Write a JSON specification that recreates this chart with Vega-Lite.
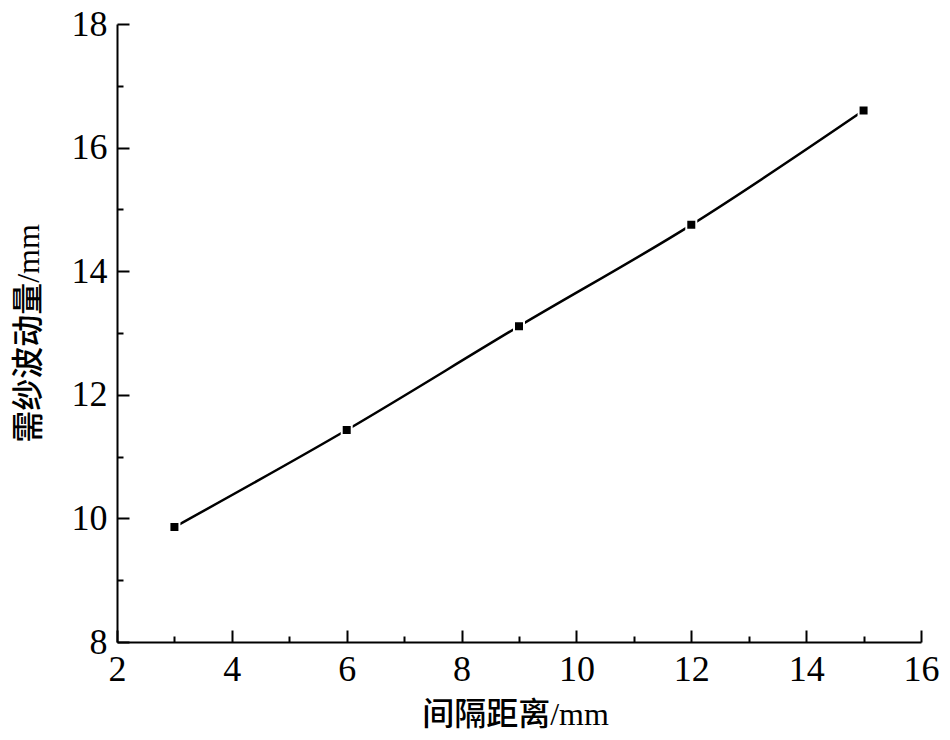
{
  "$schema": "https://vega.github.io/schema/vega-lite/v6.json",
  "width": 804,
  "height": 618,
  "autosize": "none",
  "padding": {"left": 117, "top": 24, "right": 29, "bottom": 98},
  "background": "white",
  "config": {
    "view": {"stroke": null},
    "axis": {
      "domainColor": "black", "domainWidth": 2, "tickColor": "black", "tickWidth": 2,
      "labelFont": "Liberation Serif", "labelFontSize": 36, "labelColor": "black",
      "titleFont": "Liberation Serif, Noto Sans CJK SC", "titleFontSize": 32, "titleColor": "black", "titleFontWeight": 500,
      "grid": false
    }
  },
  "data": {"values": [
    {"d": 3, "v": 9.86},
    {"d": 6, "v": 11.43},
    {"d": 9, "v": 13.11},
    {"d": 12, "v": 14.75},
    {"d": 15, "v": 16.6}
  ]},
  "resolve": {"axis": {"x": "independent", "y": "independent"}},
  "layer": [
    {
      "mark": {"type": "line", "color": "black", "strokeWidth": 2.5, "interpolate": "monotone"},
      "encoding": {
        "x": {"field": "d", "type": "quantitative", "scale": {"domain": [2, 16], "nice": false, "zero": false},
          "axis": {"orient": "bottom", "title": "间隔距离/mm", "values": [2, 4, 6, 8, 10, 12, 14, 16], "tickSize": -12, "labelPadding": 22, "titlePadding": 12, "titleX": 398, "labelFlush": false, "labelOverlap": false}},
        "y": {"field": "v", "type": "quantitative", "scale": {"domain": [8, 18], "nice": false, "zero": false},
          "axis": {"orient": "left", "title": "需纱波动量/mm", "values": [8, 10, 12, 14, 16, 18], "tickSize": -12, "labelPadding": 22, "titlePadding": 26, "labelFlush": false, "labelOverlap": false}}
      }
    },
    {
      "mark": {"type": "point", "shape": "square", "filled": true, "color": "black", "size": 100, "stroke": "white", "strokeWidth": 2, "opacity": 1},
      "encoding": {
        "x": {"field": "d", "type": "quantitative",
          "axis": {"orient": "bottom", "title": null, "values": [3, 5, 7, 9, 11, 13, 15], "tickSize": -6, "labels": false, "domain": false}},
        "y": {"field": "v", "type": "quantitative",
          "axis": {"orient": "left", "title": null, "values": [9, 11, 13, 15, 17], "tickSize": -6, "labels": false, "domain": false}}
      }
    }
  ]
}
